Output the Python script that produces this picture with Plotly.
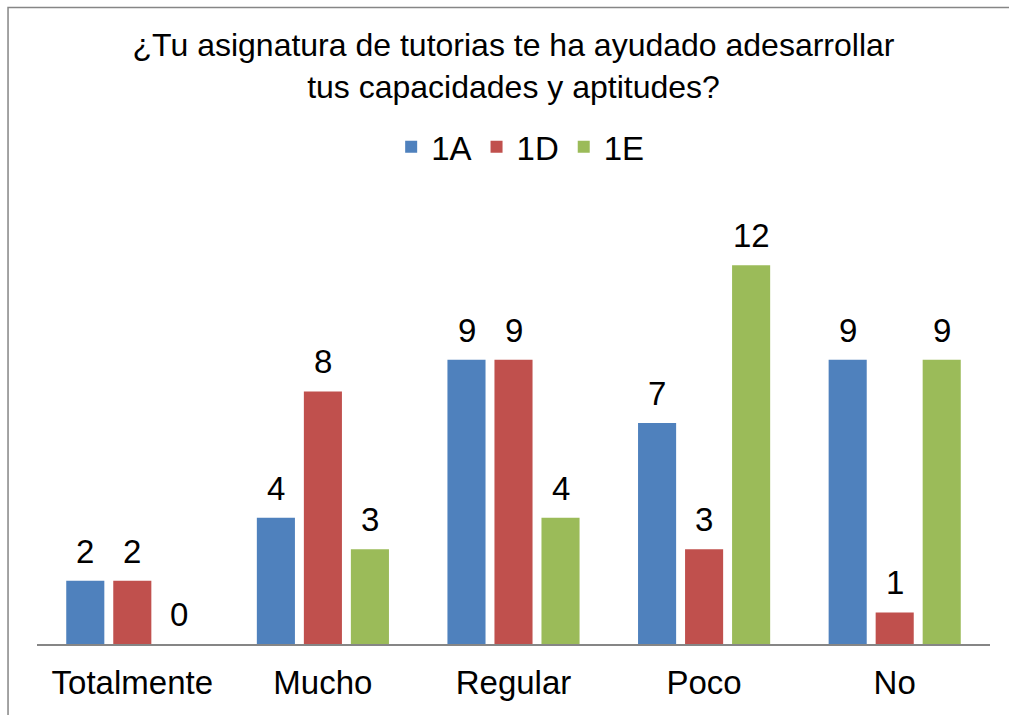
import plotly.graph_objects as go

categorias = ["Totalmente", "Mucho", "Regular", "Poco", "No"]
grupos = ["1A", "1D", "1E"]
valores_1a = [2, 4, 9, 7, 9]
valores_1d = [2, 8, 9, 3, 1]
valores_1e = [0, 3, 4, 12, 9]

series = [valores_1a, valores_1d, valores_1e]
colores = ["#4F81BD", "#C0504D", "#9BBB59"]

fuente = "Liberation Sans, Arial, sans-serif"

fig = go.Figure()

for nombre, vals, color in zip(grupos, series, colores):
    fig.add_trace(
        go.Bar(
            x=categorias,
            y=vals,
            name=nombre,
            marker=dict(color=color, line=dict(width=0)),
        )
    )

# etiquetas de valor encima de cada barra
paso = 47
for i, vals in enumerate(series):
    for cat, v in zip(categorias, vals):
        fig.add_annotation(
            x=cat,
            y=v,
            text=str(v),
            showarrow=False,
            xshift=(i - 1) * paso,
            yshift=9,
            yanchor="bottom",
            font=dict(size=33, color="black", family=fuente),
        )

# borde del área del gráfico (solo izquierda y arriba visibles)
fig.add_shape(
    type="path",
    xref="paper",
    yref="paper",
    path="M -0.0304,-0.5 L -0.0304,1.44 L 1.3,1.44",
    line=dict(color="#868686", width=1.5),
    layer="below",
)

fig.update_layout(
    width=1009,
    height=715,
    barmode="group",
    bargap=0.26,
    bargroupgap=0.19,
    paper_bgcolor="white",
    plot_bgcolor="white",
    font=dict(family=fuente, size=33, color="black"),
    title=dict(
        text="¿Tu asignatura de tutorias te ha ayudado adesarrollar<br>tus capacidades y aptitudes?",
        x=0.5,
        xref="paper",
        xanchor="center",
        y=0.921,
        yref="container",
        yanchor="top",
        font=dict(size=32, family=fuente, color="black"),
    ),
    legend=dict(
        orientation="h",
        x=0.507,
        xanchor="center",
        y=1.125,
        yanchor="middle",
        font=dict(size=33, family=fuente),
        bgcolor="rgba(0,0,0,0)",
    ),
    margin=dict(l=37, r=19, t=202, b=71),
)

fig.update_xaxes(
    showline=True,
    linecolor="#868686",
    linewidth=2,
    ticks="",
    ticklabelstandoff=8,
    showgrid=False,
    tickfont=dict(size=33, family=fuente),
)

fig.update_yaxes(
    range=[0, 14],
    visible=False,
    showgrid=False,
    zeroline=False,
)

fig.write_html(
    "out.html",
    config={"displayModeBar": False},
    post_script="document.body.style.margin='0';",
)
